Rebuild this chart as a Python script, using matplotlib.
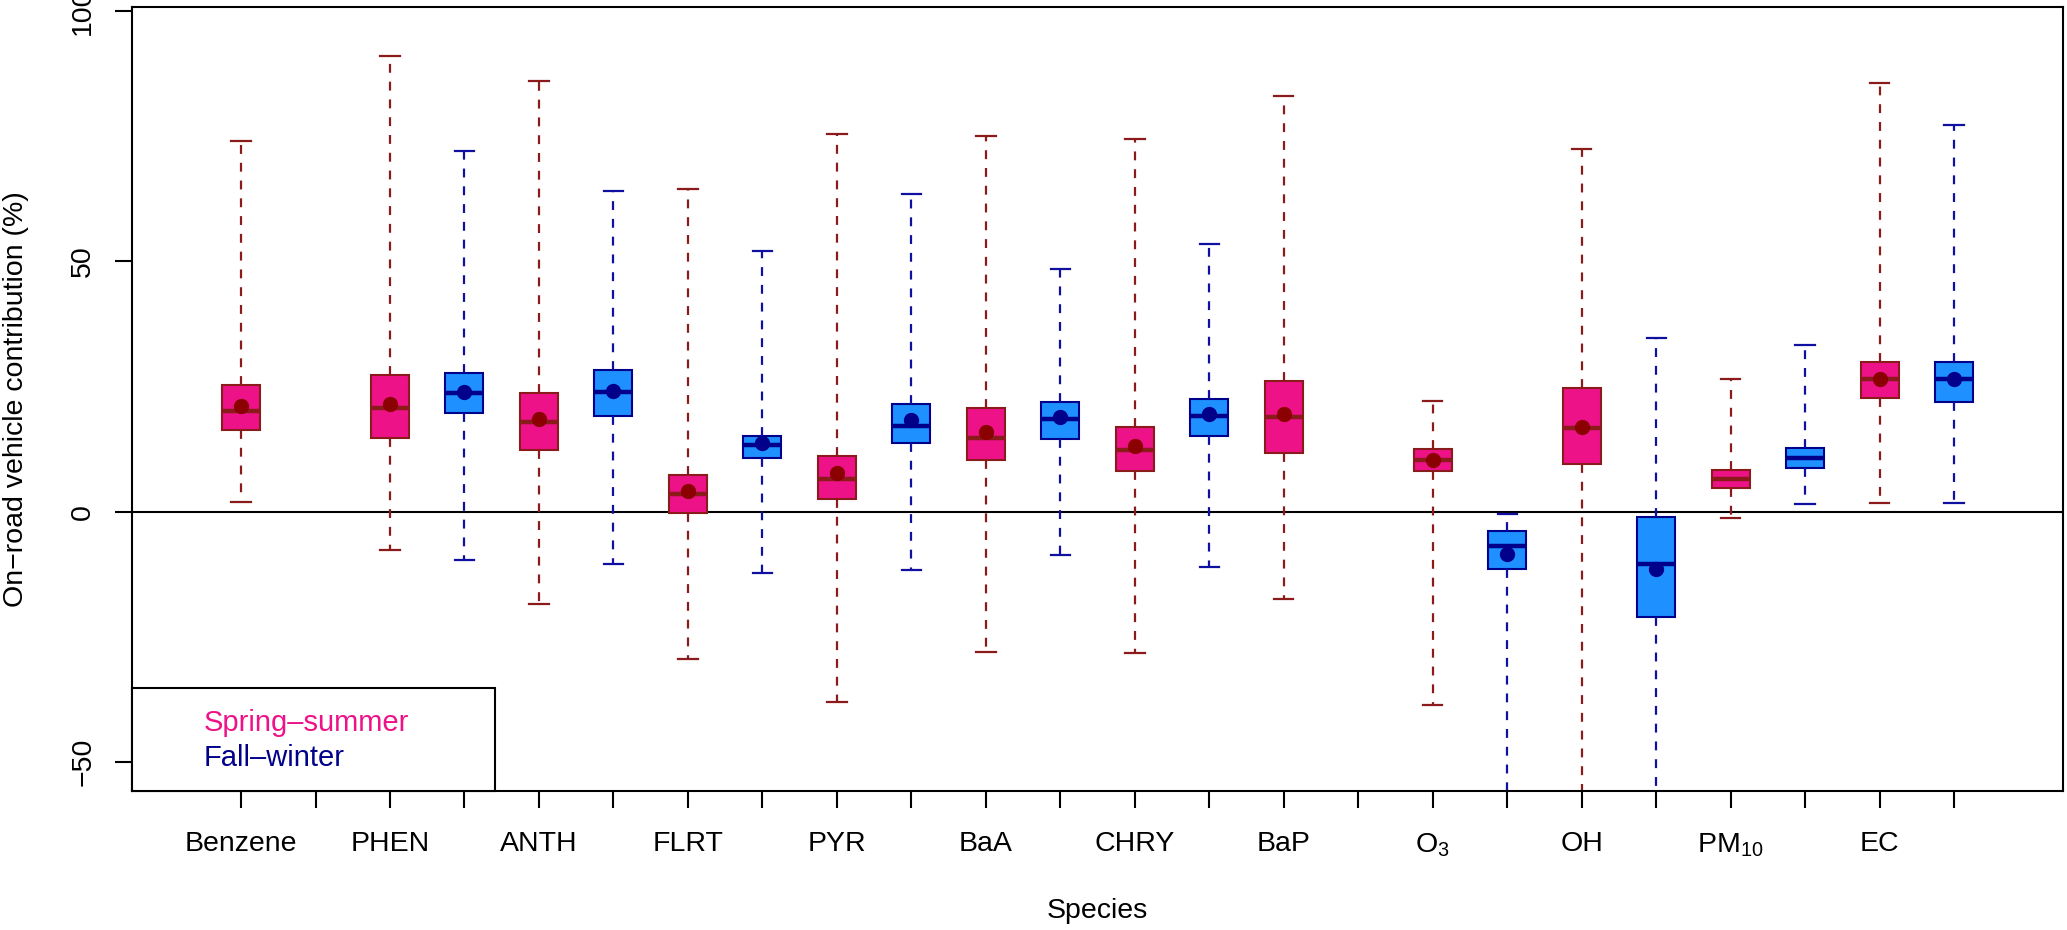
import matplotlib.pyplot as plt
from matplotlib.patches import Rectangle

plt.rcParams['font.family'] = ['Liberation Sans', 'DejaVu Sans']
plt.rcParams['mathtext.fontset'] = 'custom'
plt.rcParams['mathtext.rm'] = 'Liberation Sans'

# species on the x axis (two slots each: spring-summer, fall-winter)
species = ['Benzene', 'PHEN', 'ANTH', 'FLRT', 'PYR', 'BaA', 'CHRY', 'BaP',
           r'O$_3$', 'OH', r'PM$_{10}$', 'EC']

# spring-summer box stats (%)
spring_whislo = [2.0, -7.7, -18.5, -29.5, -38.0, -28.0, -28.3, -17.5, -38.6, -70.0, -1.2, 1.8]
spring_q1 = [16.3, 14.8, 12.4, -0.3, 2.5, 10.3, 8.1, 11.7, 8.1, 9.5, 4.8, 22.6]
spring_med = [20.1, 20.7, 17.9, 3.5, 6.5, 14.8, 12.3, 18.9, 10.4, 16.75, 6.5, 26.5]
spring_q3 = [25.3, 27.2, 23.7, 7.4, 11.1, 20.6, 17.0, 26.0, 12.5, 24.6, 8.3, 29.9]
spring_whishi = [74.0, 91.0, 86.0, 64.5, 75.5, 75.0, 74.5, 83.0, 22.0, 72.5, 26.4, 85.6]
spring_mean = [21.0, 21.4, 18.5, 4.1, 7.8, 15.9, 13.2, 19.5, 10.3, 16.9, None, 26.5]

# fall-winter box stats (%), None = not available
winter_whislo = [None, -9.6, -10.5, -12.3, -11.7, -8.6, -11.1, None, -65.0, -75.0, 1.6, 1.7]
winter_q1 = [None, 19.7, 19.1, 10.75, 13.7, 14.6, 15.2, None, -11.5, -21.0, 8.8, 21.8]
winter_med = [None, 23.7, 23.9, 13.3, 17.2, 18.5, 19.1, None, -6.9, -10.5, 10.8, 26.5]
winter_q3 = [None, 27.6, 28.2, 15.2, 21.5, 21.8, 22.5, None, -3.9, -1.0, 12.8, 29.9]
winter_whishi = [None, 72.0, 64.0, 52.0, 63.5, 48.5, 53.5, None, -0.5, 34.7, 33.2, 77.2]
winter_mean = [None, 23.9, 24.0, 13.7, 18.3, 18.8, 19.4, None, -8.5, -11.4, None, 26.5]

spring_fill, spring_edge, spring_dot = '#EE1289', '#8B1A1A', '#8B0000'
winter_fill, winter_edge, winter_dot = '#1E90FF', '#00008B', '#00008B'

fig = plt.figure(figsize=(20.67, 9.30), dpi=100)
ax = fig.add_axes([0.064, 0.1495, 0.934, 0.843])


def draw(lo, q1, med, q3, hi, mean, offset, fill, edge, dot, wcol):
    stats, pos, mpos, mval = [], [], [], []
    for i in range(len(species)):
        if med[i] is None:
            continue
        stats.append(dict(whislo=lo[i], q1=q1[i], med=med[i], q3=q3[i],
                          whishi=hi[i], fliers=[]))
        pos.append(2 * i + offset)
        if mean[i] is not None:
            mpos.append(2 * i + offset)
            mval.append(mean[i])
    ax.bxp(stats, positions=pos, widths=0.51, patch_artist=True,
           showfliers=False, manage_ticks=False,
           boxprops=dict(facecolor=fill, edgecolor=edge, linewidth=1.5),
           medianprops=dict(color=edge, linewidth=3.2, solid_capstyle='butt'),
           whiskerprops=dict(color=wcol, linewidth=1.6, linestyle=(0, (4, 4))),
           capprops=dict(color=wcol, linewidth=1.6), capwidths=0.26)
    ax.plot(mpos, mval, 'o', color=dot, markersize=10, zorder=5)


draw(spring_whislo, spring_q1, spring_med, spring_q3, spring_whishi, spring_mean,
     1, spring_fill, spring_edge, spring_dot, '#8B1A1A')
draw(winter_whislo, winter_q1, winter_med, winter_q3, winter_whishi, winter_mean,
     2, winter_fill, winter_edge, winter_dot, '#1010A0')

ax.axhline(0, color='black', linewidth=1.5, zorder=1)

ax.set_xlim(-0.46, 25.46)
ax.set_ylim(-55.8, 100.8)
ax.set_xticks(range(1, 25))
ax.set_xticklabels([s if k % 2 == 0 else '' for k, s in
                    enumerate([x for sp in species for x in (sp, '')])])
ax.set_yticks([-50, 0, 50, 100])
ax.set_yticklabels(['\u221250', '0', '50', '100'], rotation=90, va='center')
ax.tick_params(axis='both', labelsize=20.5, length=12, width=1.5)
ax.tick_params(axis='x', pad=17)
ax.tick_params(axis='y', pad=14)
for s in ax.spines.values():
    s.set_linewidth(1.5)

ax.set_xlabel('Species', fontsize=20.5, labelpad=28)
ax.set_ylabel('On\u2212road vehicle contribution (%)', fontsize=20.5, labelpad=30)

# legend box at bottom-left
ax.add_patch(Rectangle((-0.46, -55.8), 4.87, 20.5, facecolor='white',
                       edgecolor='black', linewidth=1.5, zorder=6, clip_on=False))
ax.text(0.5, -42.2, 'Spring\u2013summer', color='#EE1289', fontsize=21,
        va='center', zorder=7)
ax.text(0.5, -49.2, 'Fall\u2013winter', color='#00008B', fontsize=21,
        va='center', zorder=7)

fig.savefig('out.png', dpi=100)
